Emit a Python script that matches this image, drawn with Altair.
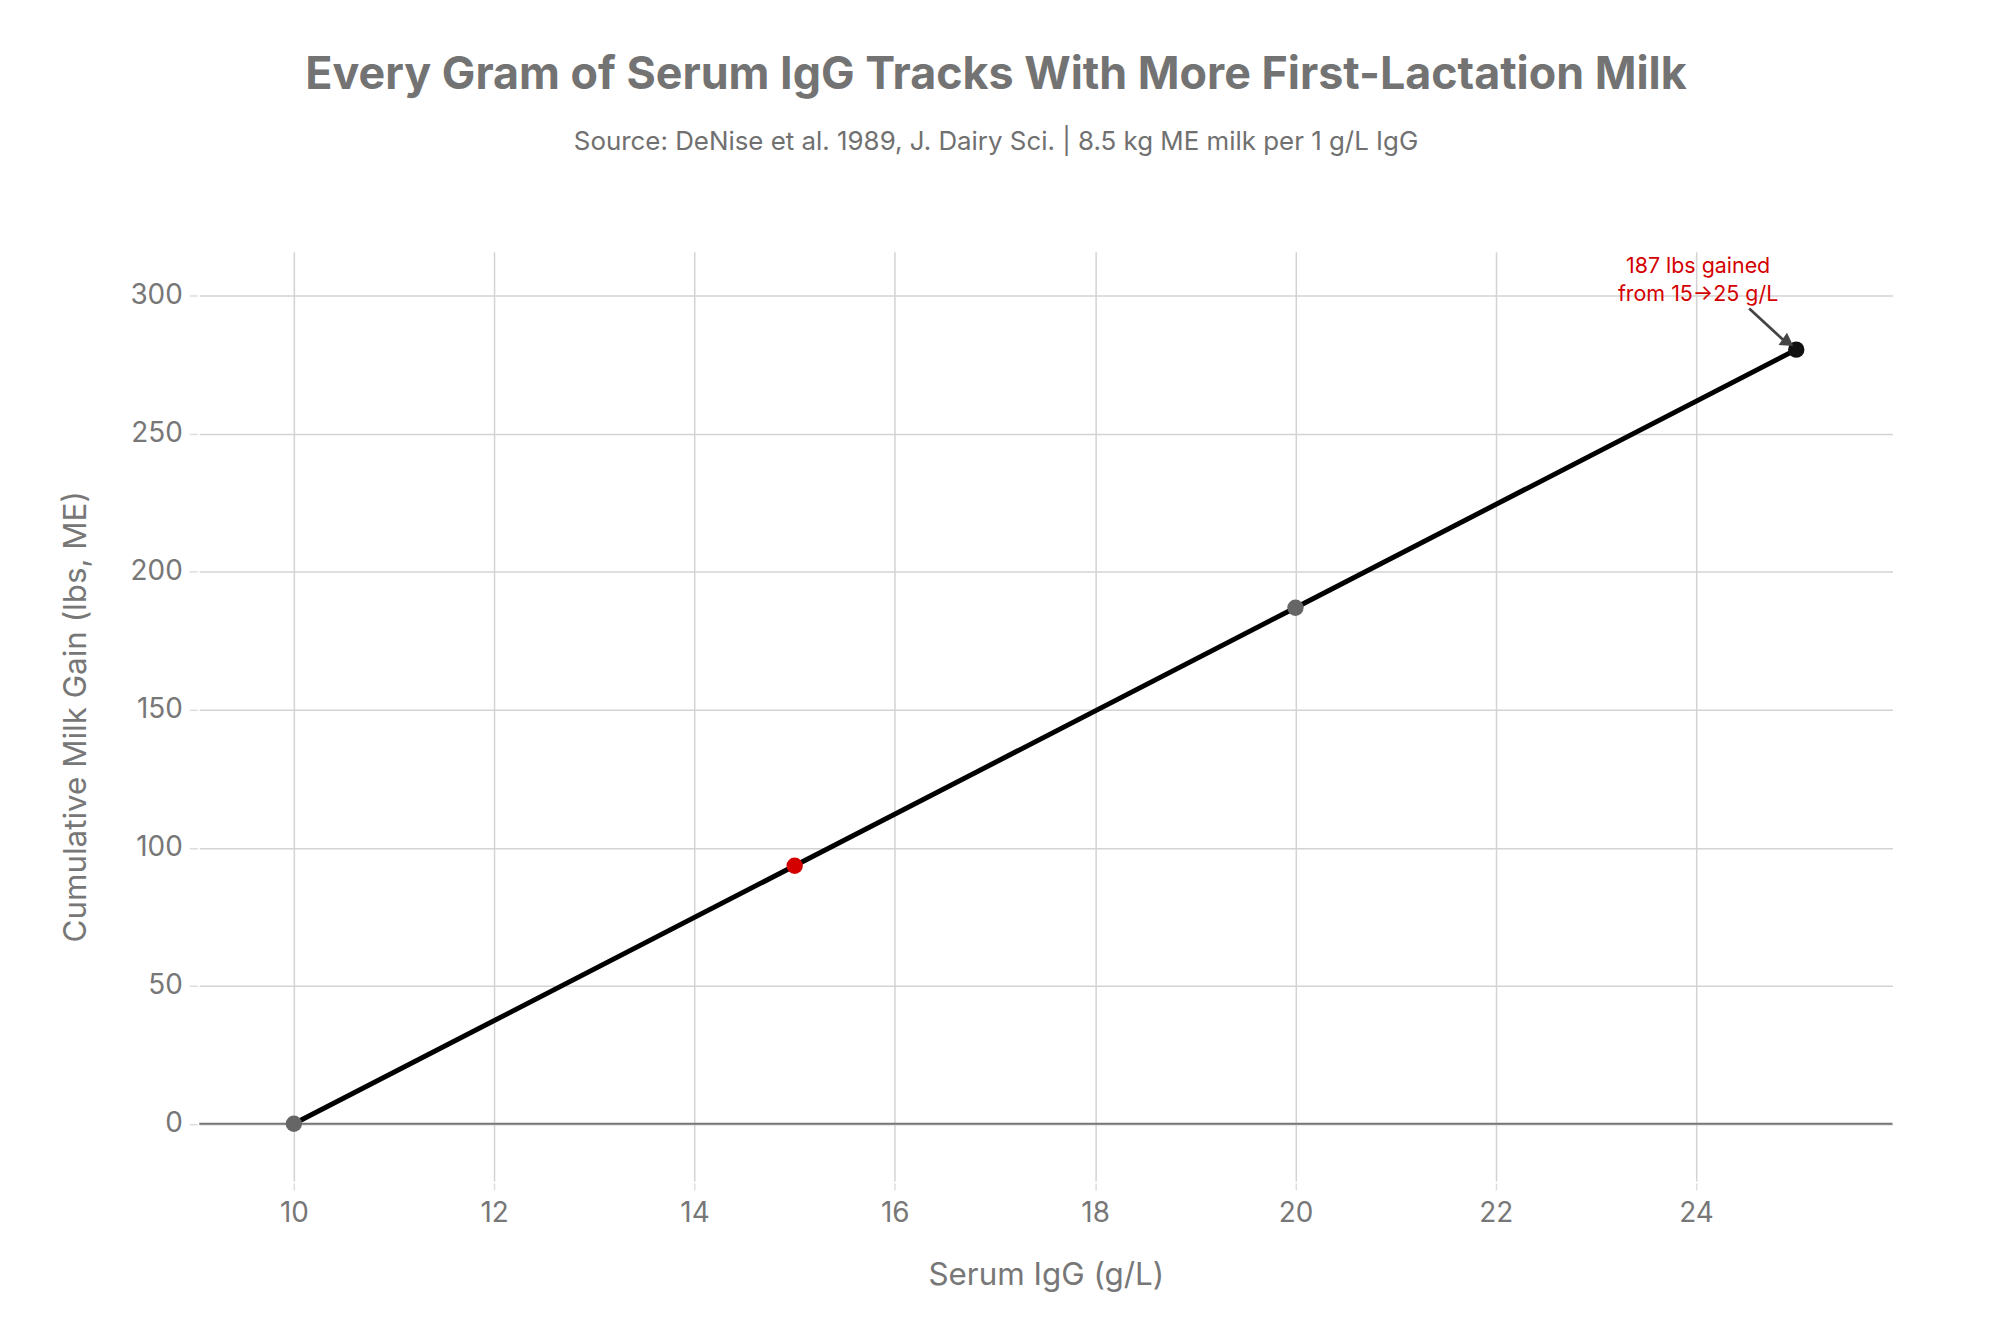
import pandas as pd
import altair as alt

# %% data
igg = [10, 15, 20, 25]
gain = [0, 93.5, 187, 280.5]
role = ["base", "start", "mid", "end"]

x_ticks = [10, 12, 14, 16, 18, 20, 22, 24]
y_ticks = [0, 50, 100, 150, 200, 250, 300]
x_range = [9.055, 25.96]
y_range = [-20.7, 316]

note_x = [24.02]
note_y = [310.5]
note_text = ["187 lbs gained\nfrom 15→25 g/L"]

arrow_x = [24.53]
arrow_y = [295.4]
arrow_x2 = [24.877]
arrow_y2 = [283.8]
head_x = [24.918]
head_y = [283.1]

zero = [0]

FONT = "Inter"
GRAY = "#777777"

# %% frames
pts = pd.DataFrame({"igg": igg, "gain": gain, "role": role})
note = pd.DataFrame({"x": note_x, "y": note_y, "t": note_text})
arrow = pd.DataFrame({"x": arrow_x, "y": arrow_y, "x2": arrow_x2, "y2": arrow_y2})
head = pd.DataFrame({"x": head_x, "y": head_y})
zero_df = pd.DataFrame({"y": zero})

xs = alt.Scale(domain=x_range, nice=False, zero=False)
ys = alt.Scale(domain=y_range, nice=False, zero=False)

x_axis = alt.Axis(
    values=x_ticks, format="d", grid=True, gridColor="#d3d3d3", gridWidth=1.5,
    domain=False, tickColor="#dddddd", tickSize=7, tickWidth=1.5, offset=2,
    labelPadding=10, labelFontSize=28, labelColor=GRAY, labelFont=FONT,
    title="Serum IgG (g/L)", titleFontSize=31.5, titleColor=GRAY,
    titleFont=FONT, titleFontWeight="normal", titleY=93,
    titleBaseline="middle",
)
y_axis = alt.Axis(
    values=y_ticks, format="d", grid=True, gridColor="#d3d3d3", gridWidth=1.5,
    domain=False, tickColor="#dddddd", tickSize=8, tickWidth=1.5, offset=2,
    labelPadding=7, labelFontSize=28, labelColor=GRAY, labelFont=FONT,
    title="Cumulative Milk Gain (lbs, ME)", titleFontSize=31.5, titleColor=GRAY,
    titleFont=FONT, titleFontWeight="normal", titleX=-121, titleY=466.5,
    titleAngle=-90, titleBaseline="middle", titleAlign="center",
)

# %% layers
zero_line = alt.Chart(zero_df).mark_rule(color=GRAY, strokeWidth=2).encode(
    y=alt.Y("y:Q", scale=ys, axis=y_axis)
)

line = alt.Chart(pts).mark_line(color="#000000", strokeWidth=5).encode(
    x=alt.X("igg:Q", scale=xs, axis=x_axis),
    y=alt.Y("gain:Q", scale=ys, axis=y_axis),
)

dots = alt.Chart(pts).mark_circle(size=270, opacity=1).encode(
    x=alt.X("igg:Q", scale=xs),
    y=alt.Y("gain:Q", scale=ys),
    color=alt.Color(
        "role:N",
        scale=alt.Scale(domain=["base", "start", "mid", "end"],
                        range=["#666666", "#d40000", "#666666", "#111111"]),
        legend=None,
    ),
)

shaft = alt.Chart(arrow).mark_rule(color="#444444", strokeWidth=2.8).encode(
    x="x:Q", y="y:Q", x2="x2:Q", y2="y2:Q"
)

tip = alt.Chart(head).mark_point(
    shape="triangle-up", filled=True, size=220, angle=124.7,
    color="#444444", opacity=1
).encode(x=alt.X("x:Q", scale=xs), y=alt.Y("y:Q", scale=ys))

label = alt.Chart(note).mark_text(
    font=FONT, fontSize=21.5, color="#d40000", lineBreak="\n",
    lineHeight=28, align="center", baseline="middle"
).encode(x=alt.X("x:Q", scale=xs), y=alt.Y("y:Q", scale=ys), text="t:N")

chart = (
    alt.layer(zero_line, line, dots, shaft, tip, label)
    .properties(
        width=1700, height=933,
        autosize=alt.AutoSizeParams(type="none"),
        padding={"left": 192, "top": 242, "right": 100, "bottom": 142},
        title=alt.TitleParams(
            "Every Gram of Serum IgG Tracks With More First-Lactation Milk",
            subtitle="Source: DeNise et al. 1989, J. Dairy Sci. | 8.5 kg ME milk per 1 g/L IgG",
            font=FONT, fontSize=45, fontWeight="bold", color="#737373",
            subtitleFont=FONT, subtitleFontSize=26, subtitleColor="#707070",
            subtitlePadding=31, anchor="middle", dx=-50, offset=97,
        ),
    )
    .configure_view(stroke=None)
)

chart.save("out.html", embed_options={"renderer": "svg", "actions": False})
